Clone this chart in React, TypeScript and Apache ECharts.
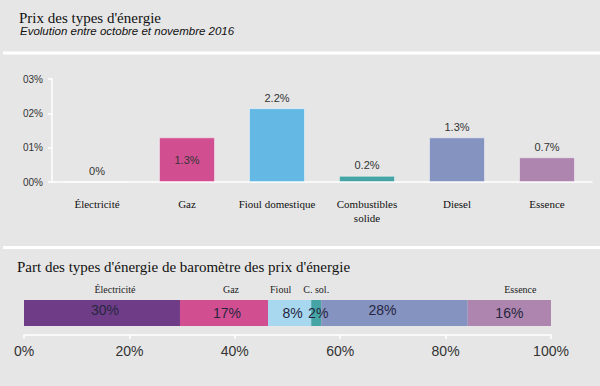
import React, { useEffect, useRef } from "react";
import * as echarts from "echarts";

// Chart 1: price change between October and November 2016
const priceCategories = ["Électricité", "Gaz", "Fioul domestique", "Combustibles\nsolide", "Diesel", "Essence"];
const priceValues = [0, 1.3, 2.15, 0.18, 1.3, 0.72];
const priceLabels = ["0%", "1.3%", "2.2%", "0.2%", "1.3%", "0.7%"];
const priceColors = ["#6f3d87", "#d14f91", "#63b8e4", "#45a5a5", "#8593c0", "#ae85ae"];
const priceTickLabels = ["00%", "01%", "02%", "03%"];

// Chart 2: share of energy types
const shareNames = ["Électricité", "Gaz", "Fioul", "C. sol.", "Diesel", "Essence"];
const shareTopLabels = ["Électricité", "Gaz", "Fioul", "C. sol.", "", "Essence"];
const shareValues = [29.6, 16.7, 8.2, 1.9, 27.8, 15.8];
const shareLabels = ["30%", "17%", "8%", "2%", "28%", "16%"];
const shareColors = ["#6f3d87", "#d14f91", "#a8d8f0", "#45a5a5", "#8593c0", "#ae85ae"];
const shareTickLabels = ["0%", "20%", "40%", "60%", "80%", "100%"];

const SERIF = "'Liberation Serif', 'DejaVu Serif', serif";
const SANS = "'Liberation Sans', Arial, sans-serif";

export default function App() {
  const ref = useRef<HTMLDivElement>(null);
  useEffect(() => {
    if (!ref.current) return;
    const chart = echarts.init(ref.current, undefined, { renderer: "svg" });

    const valueOffsets: number[][] = [[3, -3], [3, 0], [3, 0], [2, 0], [-12, -3], [0, 0]];
    const nameOffsets: number[][] = [[13, 0], [7, 0], [-9, 0], [0, 0], [0, 0], [11, 0]];

    const shareSeries: any[] = [];
    shareValues.forEach((v, i) => {
      shareSeries.push({
        type: "bar",
        name: shareNames[i],
        xAxisIndex: 1,
        yAxisIndex: 1,
        stack: "share",
        barWidth: 26,
        barGap: "-100%",
        data: [v],
        itemStyle: { color: shareColors[i] },
        label: {
          show: true,
          position: "inside",
          offset: valueOffsets[i],
          formatter: () => shareLabels[i],
          fontFamily: SANS,
          fontSize: 14,
          color: "#262640",
        },
      });
    });
    shareValues.forEach((v, i) => {
      shareSeries.push({
        type: "bar",
        name: shareNames[i] + " (nom)",
        xAxisIndex: 1,
        yAxisIndex: 1,
        stack: "names",
        barWidth: 26,
        barGap: "-100%",
        data: [v],
        itemStyle: { color: "rgba(0,0,0,0)" },
        z: 3,
        label: {
          show: shareTopLabels[i] !== "",
          position: "top",
          distance: 6,
          offset: nameOffsets[i],
          formatter: () => shareTopLabels[i],
          fontFamily: SERIF,
          fontSize: 10,
          color: "#222",
        },
      });
    });

    chart.setOption({
      animation: false,
      backgroundColor: "#e6e6e6",
      title: [
        {
          text: "Prix des types d'énergie",
          left: 14,
          top: 5,
          textStyle: { fontFamily: SERIF, fontSize: 15, fontWeight: "normal", color: "#111" },
        },
        {
          text: "Evolution entre octobre et novembre 2016",
          left: 15,
          top: 20,
          textStyle: { fontFamily: SANS, fontSize: 11.5, fontStyle: "italic", fontWeight: "normal", color: "#111" },
        },
        {
          text: "Part des types d'énergie de baromètre des prix d'énergie",
          left: 12,
          top: 254,
          textStyle: { fontFamily: SERIF, fontSize: 15, fontWeight: "normal", color: "#111" },
        },
      ],
      graphic: [
        { type: "rect", shape: { x: 3, y: 51.5, width: 597, height: 3 }, style: { fill: "#ffffff" }, silent: true },
        { type: "rect", shape: { x: 3, y: 246, width: 597, height: 3 }, style: { fill: "#ffffff" }, silent: true },
      ],
      grid: [
        { left: 52, right: 8, top: 79, height: 103 },
        { left: 24, width: 527, top: 300, height: 26 },
      ],
      xAxis: [
        {
          type: "category",
          gridIndex: 0,
          data: priceCategories,
          axisLine: { lineStyle: { color: "#ffffff", width: 1.5 } },
          axisTick: { show: false },
          axisLabel: { fontFamily: SERIF, fontSize: 11, color: "#111", margin: 15, lineHeight: 14, interval: 0 },
        },
        {
          type: "value",
          gridIndex: 1,
          min: 0,
          max: 100,
          interval: 20,
          offset: 9,
          axisLine: { show: true, lineStyle: { color: "#ffffff", width: 1.5 } },
          axisTick: { show: true, length: 4, lineStyle: { color: "#ffffff", width: 1.5 } },
          splitLine: { show: false },
          axisLabel: {
            fontFamily: SANS,
            fontSize: 14,
            color: "#333",
            margin: 9,
            formatter: (v: number) => shareTickLabels[Math.round(v / 20)],
          },
        },
      ],
      yAxis: [
        {
          type: "value",
          gridIndex: 0,
          min: 0,
          max: 3,
          interval: 1,
          axisLine: { show: true, lineStyle: { color: "#ffffff", width: 1.5 } },
          axisTick: { show: true, length: 4, lineStyle: { color: "#ffffff", width: 1.5 } },
          splitLine: { show: false },
          axisLabel: {
            fontFamily: SANS,
            fontSize: 10,
            color: "#333",
            margin: 9,
            formatter: (v: number) => priceTickLabels[Math.round(v)],
          },
        },
        {
          type: "category",
          gridIndex: 1,
          data: ["Part"],
          show: false,
        },
      ],
      series: [
        {
          type: "bar",
          name: "Évolution",
          xAxisIndex: 0,
          yAxisIndex: 0,
          barWidth: 56,
          data: priceValues.map((v, i) => ({
            value: v,
            itemStyle: { color: priceColors[i] },
            label: i === 1 ? { position: "inside" } : {},
          })),
          itemStyle: { borderColor: "rgba(255,255,255,0.45)", borderWidth: 1 },
          label: {
            show: true,
            position: "top",
            distance: 5,
            formatter: (p: any) => priceLabels[p.dataIndex],
            fontFamily: SANS,
            fontSize: 11,
            color: "#333",
          },
        },
        ...shareSeries,
      ],
    });
    return () => chart.dispose();
  }, []);
  return (
    <div
      ref={ref}
      style={{ position: "fixed", left: 0, top: 0, width: 600, height: 386 }}
    />
  );
}
